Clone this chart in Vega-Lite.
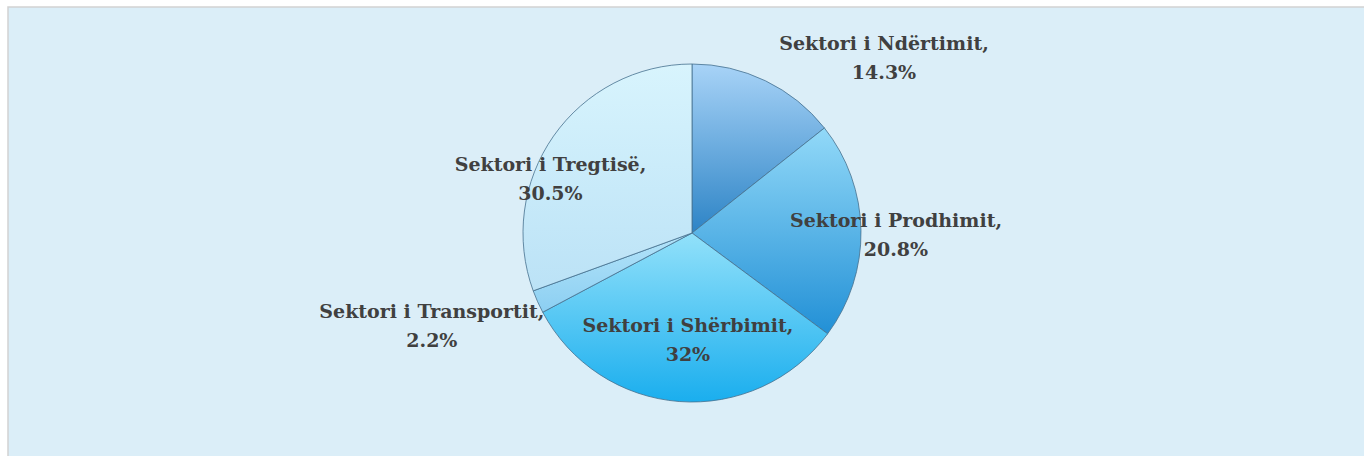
{
  "$schema": "https://vega.github.io/schema/vega-lite/v6.json",
  "width": 1356,
  "height": 449,
  "autosize": {"type": "none"},
  "padding": {"left": 8, "top": 7, "right": 0, "bottom": 0},
  "background": "#ffffff",
  "data": {
    "values": [
      {"sector": "Sektori i Ndërtimit", "value": 14.3, "label": "Sektori i Ndërtimit,\n14.3%"},
      {"sector": "Sektori i Prodhimit", "value": 20.8, "label": "Sektori i Prodhimit,\n20.8%"},
      {"sector": "Sektori i Shërbimit", "value": 32, "label": "Sektori i Shërbimit,\n32%"},
      {"sector": "Sektori i Transportit", "value": 2.2, "label": "Sektori i Transportit,\n2.2%"},
      {"sector": "Sektori i Tregtisë", "value": 30.5, "label": "Sektori i Tregtisë,\n30.5%"}
    ]
  },
  "layer": [
    {
      "data": {"values": [{"frame": 1}]},
      "mark": {"type": "rect", "fill": "#dbeef8", "stroke": "#d2d2d2", "strokeWidth": 1.5, "x2Offset": 4, "y2Offset": 4},
      "encoding": {"x": {"value": 0}, "x2": {"value": "width"}, "y": {"value": 0}, "y2": {"value": "height"}}
    },
    {
      "mark": {"type": "arc", "radius": 169, "xOffset": 6, "yOffset": 1.5, "stroke": "#46708f", "strokeWidth": 1, "strokeOpacity": 0.8},
      "encoding": {
        "theta": {"field": "value", "type": "quantitative", "stack": true},
        "detail": {"field": "sector", "type": "nominal"},
        "order": {"field": "sector", "type": "nominal", "sort": "ascending"},
        "fill": {
          "condition": [
            {"test": "datum.sector === 'Sektori i Ndërtimit'", "value": {"gradient": "linear", "x1": 0, "y1": 0, "x2": 0, "y2": 1, "stops": [{"offset": 0, "color": "#a8d3f7"}, {"offset": 1, "color": "#2d84c6"}]}},
            {"test": "datum.sector === 'Sektori i Prodhimit'", "value": {"gradient": "linear", "x1": 0, "y1": 0, "x2": 0, "y2": 1, "stops": [{"offset": 0, "color": "#92d9f8"}, {"offset": 1, "color": "#2290d6"}]}},
            {"test": "datum.sector === 'Sektori i Shërbimit'", "value": {"gradient": "linear", "x1": 0, "y1": 0, "x2": 0, "y2": 1, "stops": [{"offset": 0, "color": "#92e1fa"}, {"offset": 1, "color": "#1aaeee"}]}},
            {"test": "datum.sector === 'Sektori i Transportit'", "value": {"gradient": "linear", "x1": 0, "y1": 0, "x2": 0, "y2": 1, "stops": [{"offset": 0, "color": "#b4e4f9"}, {"offset": 1, "color": "#8ccff2"}]}}
          ],
          "value": {"gradient": "linear", "x1": 0, "y1": 0, "x2": 0, "y2": 1, "stops": [{"offset": 0, "color": "#d8f4fd"}, {"offset": 1, "color": "#bbe2f6"}]}
        }
      }
    },
    {
      "mark": {"type": "text", "radius": 200, "dx": 111, "dy": -7, "font": "DejaVu Serif", "fontWeight": "bold", "fontSize": 19, "color": "#404040", "lineHeight": 29, "lineBreak": "\n", "align": "center", "baseline": "middle"},
      "encoding": {
        "theta": {"field": "value", "type": "quantitative", "stack": true},
        "detail": {"field": "sector", "type": "nominal"},
        "order": {"field": "sector", "type": "nominal", "sort": "ascending"},
        "text": {"condition": {"test": "datum.sector === 'Sektori i Ndërtimit'", "field": "label", "type": "nominal"}, "value": ""}
      }
    },
    {
      "mark": {"type": "text", "radius": 204, "dx": 6, "dy": -7, "font": "DejaVu Serif", "fontWeight": "bold", "fontSize": 19, "color": "#404040", "lineHeight": 29, "lineBreak": "\n", "align": "center", "baseline": "middle"},
      "encoding": {
        "theta": {"field": "value", "type": "quantitative", "stack": true},
        "detail": {"field": "sector", "type": "nominal"},
        "order": {"field": "sector", "type": "nominal", "sort": "ascending"},
        "text": {"condition": {"test": "datum.sector === 'Sektori i Prodhimit'", "field": "label", "type": "nominal"}, "value": ""}
      }
    },
    {
      "mark": {"type": "text", "radius": 107, "dx": 10, "dy": -12, "font": "DejaVu Serif", "fontWeight": "bold", "fontSize": 19, "color": "#404040", "lineHeight": 29, "lineBreak": "\n", "align": "center", "baseline": "middle"},
      "encoding": {
        "theta": {"field": "value", "type": "quantitative", "stack": true},
        "detail": {"field": "sector", "type": "nominal"},
        "order": {"field": "sector", "type": "nominal", "sort": "ascending"},
        "text": {"condition": {"test": "datum.sector === 'Sektori i Shërbimit'", "field": "label", "type": "nominal"}, "value": ""}
      }
    },
    {
      "mark": {"type": "text", "radius": 276, "dx": -2, "dy": -31.5, "font": "DejaVu Serif", "fontWeight": "bold", "fontSize": 19, "color": "#404040", "lineHeight": 29, "lineBreak": "\n", "align": "center", "baseline": "middle"},
      "encoding": {
        "theta": {"field": "value", "type": "quantitative", "stack": true},
        "detail": {"field": "sector", "type": "nominal"},
        "order": {"field": "sector", "type": "nominal", "sort": "ascending"},
        "text": {"condition": {"test": "datum.sector === 'Sektori i Transportit'", "field": "label", "type": "nominal"}, "value": ""}
      }
    },
    {
      "mark": {"type": "text", "radius": 152, "dx": -11, "dy": 21, "font": "DejaVu Serif", "fontWeight": "bold", "fontSize": 19, "color": "#404040", "lineHeight": 29, "lineBreak": "\n", "align": "center", "baseline": "middle"},
      "encoding": {
        "theta": {"field": "value", "type": "quantitative", "stack": true},
        "detail": {"field": "sector", "type": "nominal"},
        "order": {"field": "sector", "type": "nominal", "sort": "ascending"},
        "text": {"condition": {"test": "datum.sector === 'Sektori i Tregtisë'", "field": "label", "type": "nominal"}, "value": ""}
      }
    }
  ]
}
